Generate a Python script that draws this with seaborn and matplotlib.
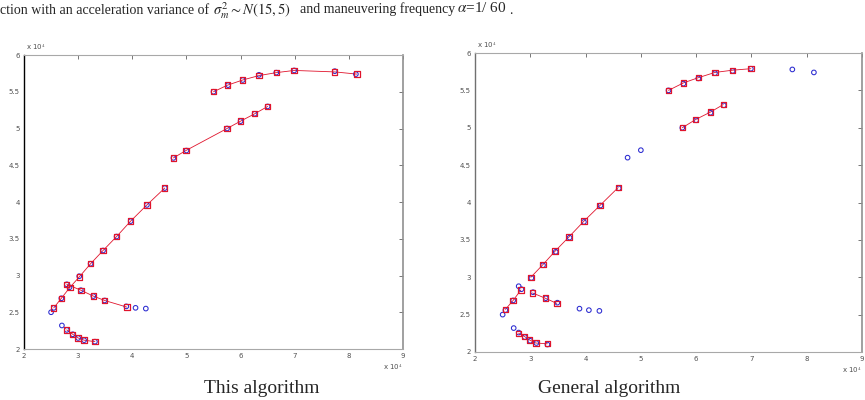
import numpy as np
import pandas as pd
import matplotlib
matplotlib.use("Agg")
import matplotlib.pyplot as plt
import seaborn as sns

sns.set_style("white")
plt.rcParams["font.family"] = ["Liberation Serif", "DejaVu Serif"]
plt.rcParams["mathtext.fontset"] = "stix"

# ---- data (units of 1e4) ----
# true target positions (blue circles), four tracks
true_A_x = [2.50, 2.55, 2.69, 2.84, 3.02, 3.23, 3.46, 3.71, 3.97, 4.27, 4.60, 4.76, 5.00, 5.75, 6.00, 6.26, 6.50]
true_A_y = [2.50, 2.56, 2.69, 2.84, 2.99, 3.16, 3.34, 3.53, 3.74, 3.96, 4.19, 4.60, 4.70, 5.00, 5.10, 5.20, 5.30]
true_B_x = [2.79, 3.05, 3.28, 3.49, 3.89, 4.06, 4.25]
true_B_y = [2.88, 2.80, 2.72, 2.66, 2.58, 2.56, 2.55]
true_C_x = [2.70, 2.79, 2.90, 3.00, 3.11, 3.31]
true_C_y = [2.32, 2.26, 2.20, 2.15, 2.12, 2.10]
true_D_x = [5.50, 5.77, 6.04, 6.34, 6.66, 6.99, 7.74, 8.13]
true_D_y = [5.50, 5.59, 5.66, 5.73, 5.76, 5.79, 5.78, 5.74]

# estimates of "This algorithm" (red squares), with segment ids
this_x = [2.55, 2.69, 2.85, 3.02, 3.23, 3.46, 3.71, 3.97, 4.27, 4.60,
          4.76, 4.99, 5.75, 6.00, 6.26, 6.50,
          2.79, 3.05, 3.28, 3.49, 3.90,
          2.79, 2.90, 3.00, 3.11, 3.31,
          5.50, 5.76, 6.04, 6.34, 6.66, 6.99, 7.74, 8.15]
this_y = [2.56, 2.69, 2.84, 2.98, 3.16, 3.34, 3.53, 3.74, 3.96, 4.19,
          4.60, 4.70, 5.00, 5.10, 5.20, 5.30,
          2.88, 2.80, 2.72, 2.66, 2.57,
          2.26, 2.20, 2.15, 2.12, 2.10,
          5.50, 5.59, 5.66, 5.72, 5.76, 5.79, 5.77, 5.74]
this_seg = [0]*10 + [1]*6 + [2]*5 + [3]*5 + [4]*8

# estimates of "General algorithm"
gen_x = [2.55, 2.69, 2.83,
         3.01, 3.23, 3.45, 3.70, 3.97, 4.26, 4.59,
         5.75, 5.99, 6.26, 6.49,
         3.04, 3.27, 3.48,
         2.79, 2.89, 2.99, 3.10, 3.31,
         5.50, 5.77, 6.04, 6.34, 6.66, 6.99]
gen_y = [2.57, 2.69, 2.83,
         3.00, 3.17, 3.35, 3.54, 3.75, 3.96, 4.20,
         5.00, 5.11, 5.21, 5.31,
         2.79, 2.72, 2.65,
         2.25, 2.21, 2.16, 2.12, 2.11,
         5.50, 5.60, 5.67, 5.74, 5.77, 5.79]
gen_seg = [0]*3 + [1]*7 + [2]*4 + [3]*3 + [4]*5 + [5]*6

x_ticks = [2, 3, 4, 5, 6, 7, 8, 9]
y_ticks = [2, 2.5, 3, 3.5, 4, 4.5, 5, 5.5, 6]
x_labels = ["2", "3", "4", "5", "6", "7", "8", "9"]
y_labels = ["2", "2.5", "3", "3.5", "4", "4.5", "5", "5.5", "6"]
captions = ["This algorithm", "General algorithm"]

true_df = pd.DataFrame({
    "x": true_A_x + true_B_x + true_C_x + true_D_x,
    "y": true_A_y + true_B_y + true_C_y + true_D_y,
})
est_dfs = [pd.DataFrame({"x": this_x, "y": this_y, "seg": this_seg}),
           pd.DataFrame({"x": gen_x, "y": gen_y, "seg": gen_seg})]

W, H = 865, 400
fig = plt.figure(figsize=(W / 100, H / 100), dpi=100)

def px_rect(x0, y0, x1, y1):
    return [x0 / W, 1 - y1 / H, (x1 - x0) / W, (y1 - y0) / H]

axes_px = [(24, 55, 403, 349), (475, 53, 862, 352)]
RED = "#e0142c"
BLUE = "#2a2ad0"

for i, (rect, est, cap) in enumerate(zip(axes_px, est_dfs, captions)):
    ax = fig.add_axes(px_rect(*rect))
    sns.lineplot(data=est, x="x", y="y", units="seg", estimator=None, sort=False,
                 color=RED, lw=0.6, ax=ax, legend=False)
    sns.scatterplot(data=true_df, x="x", y="y", marker="o", s=11, color=BLUE,
                    linewidth=0.75, ax=ax, legend=False, zorder=3)
    c = ax.collections[-1]
    c.set_facecolor("none"); c.set_edgecolor(BLUE)
    sns.scatterplot(data=est, x="x", y="y", marker="s", s=15, color=RED,
                    linewidth=0.9, ax=ax, legend=False, zorder=4)
    c = ax.collections[-1]
    c.set_facecolor("none"); c.set_edgecolor(RED)

    ax.set_xlim(2, 9)
    ax.set_ylim(2, 6)
    ax.set_xticks(x_ticks)
    ax.set_xticklabels(x_labels, family="DejaVu Sans")
    ax.set_yticks(y_ticks)
    ax.set_yticklabels(y_labels, family="DejaVu Sans")
    ax.set_xlabel(""); ax.set_ylabel("")
    ax.tick_params(direction="in", length=3, width=0.6, labelsize=5,
                   labelcolor="#505050", color="#606060", pad=3,
                   top=True, right=True)
    for side in ["top", "right", "bottom"]:
        ax.spines[side].set_color("#a8a8a8")
        ax.spines[side].set_linewidth(0.8)
    ax.spines["left"].set_color("black" if i == 0 else "#707070")
    ax.spines["left"].set_linewidth(1.0)
    ax.spines["right"].set_color("#909090")
    ax.spines["right"].set_linewidth(1.2)

    ax.text(0.005, 1.01, r"x 10$^4$", transform=ax.transAxes, fontsize=5,
            color="#505050", family="DejaVu Sans", va="bottom", ha="left")
    ax.text(1.0, -0.045, r"x 10$^4$", transform=ax.transAxes, fontsize=5,
            color="#505050", family="DejaVu Sans", va="top", ha="right")

fig.text(262 / W, 1 - 393 / H, captions[0], fontsize=14, ha="center", va="baseline")
fig.text(609 / W, 1 - 393 / H, captions[1], fontsize=14, ha="center", va="baseline")

top_fs = 10
fig.text(0 / W, 1 - 13.5 / H, "ction with an acceleration variance of", fontsize=top_fs,
         ha="left", va="baseline")
fig.text(213 / W, 1 - 14.5 / H, r"$\sigma_m^2 \sim N(15,5)$", fontsize=top_fs + 0.5,
         ha="left", va="baseline")
fig.text(300 / W, 1 - 13.5 / H, "and maneuvering frequency", fontsize=top_fs,
         ha="left", va="baseline")
fig.text(457 / W, 1 - 12.5 / H, r"$\alpha$=1/ 60", fontsize=top_fs + 1,
         ha="left", va="baseline")
fig.text(509 / W, 1 - 13.5 / H, ".", fontsize=top_fs, ha="left", va="baseline")

fig.savefig("out.png", dpi=100)
